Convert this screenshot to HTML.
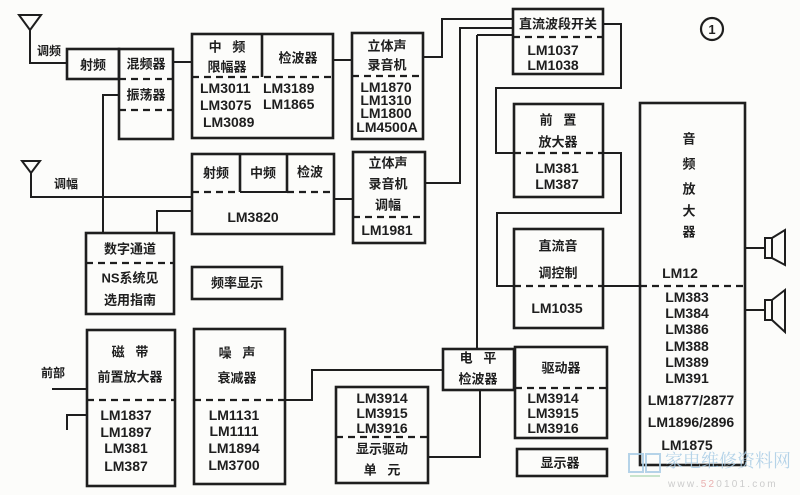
<!DOCTYPE html>
<html><head><meta charset="utf-8"><style>
html,body{margin:0;padding:0;background:#fcfcfa;}
svg{display:block;}
.c{font-family:"Liberation Sans","Noto Sans CJK SC",sans-serif;font-size:13px;font-weight:bold;fill:#1e1e1e;text-anchor:middle;dominant-baseline:central;}
.m{font-family:"Liberation Sans",sans-serif;font-size:14px;font-weight:bold;fill:#1e1e1e;text-anchor:middle;}
.b{fill:none;stroke:#1e1e1e;stroke-width:2.6;}
.l{fill:none;stroke:#1e1e1e;stroke-width:2;}
.d{fill:none;stroke:#1e1e1e;stroke-width:2.2;stroke-dasharray:7 5;}
</style></head><body>
<svg width="800" height="495" viewBox="0 0 800 495" xmlns="http://www.w3.org/2000/svg">
<rect width="800" height="495" fill="#fcfcfa"/>

<!-- Antenna FM -->
<polygon points="19,15 41,15 30,30" class="l"/>
<polyline points="30,30 30,63 67,63" class="l"/>
<text x="49" y="51" class="c" style="font-size:12px">调频</text>

<!-- 射频 -->
<rect x="67" y="49" width="52" height="30" class="b"/>
<text x="93" y="65" class="c">射频</text>
<!-- 混频器/振荡器 -->
<rect x="119" y="49" width="54" height="90" class="b"/>
<line x1="119" y1="79" x2="173" y2="79" class="d"/>
<line x1="119" y1="110" x2="173" y2="110" class="d"/>
<text x="146" y="64" class="c">混频器</text>
<text x="146" y="95" class="c">振荡器</text>
<line x1="173" y1="62" x2="192" y2="62" class="l"/>

<!-- 中频 box -->
<rect x="192" y="34" width="141" height="104" class="b"/>
<line x1="262" y1="34" x2="262" y2="77" class="b"/>
<line x1="192" y1="77" x2="333" y2="77" class="d"/>
<text x="227" y="47" class="c">中 &#160; 频</text>
<text x="227" y="67" class="c">限幅器</text>
<text x="298" y="58" class="c">检波器</text>
<text x="200" y="93" class="m" style="text-anchor:start">LM3011</text>
<text x="200" y="110" class="m" style="text-anchor:start">LM3075</text>
<text x="203" y="127" class="m" style="text-anchor:start">LM3089</text>
<text x="263" y="93" class="m" style="text-anchor:start">LM3189</text>
<text x="263" y="109" class="m" style="text-anchor:start">LM1865</text>
<line x1="333" y1="60" x2="352" y2="60" class="l"/>

<!-- 立体声录音机 -->
<rect x="352" y="33" width="71" height="106" class="b"/>
<line x1="352" y1="76" x2="423" y2="76" class="d"/>
<text x="387" y="46" class="c">立体声</text>
<text x="387" y="65" class="c">录音机</text>
<text x="386" y="92" class="m">LM1870</text>
<text x="386" y="105" class="m">LM1310</text>
<text x="386" y="118" class="m">LM1800</text>
<text x="387" y="132" class="m">LM4500A</text>
<polyline points="423,57 442,57 442,19 513,19" class="l"/>

<!-- 直流波段开关 -->
<rect x="513" y="9" width="90" height="65" class="b"/>
<line x1="513" y1="37" x2="603" y2="37" class="d"/>
<text x="558" y="24" class="c">直流波段开关</text>
<text x="553" y="55" class="m">LM1037</text>
<text x="553" y="70" class="m">LM1038</text>
<polyline points="603,24 621,24 621,88 496,88 496,153 514,153" class="l"/>

<!-- 前置放大器 -->
<rect x="514" y="104" width="89" height="93" class="b"/>
<line x1="514" y1="153" x2="603" y2="153" class="d"/>
<text x="558" y="120" class="c">前 &#160; 置</text>
<text x="558" y="142" class="c">放大器</text>
<text x="557" y="173" class="m">LM381</text>
<text x="557" y="189" class="m">LM387</text>
<polyline points="603,153 621,153 621,213 497,213 497,286 514,286" class="l"/>

<!-- 直流音调控制 -->
<rect x="514" y="229" width="89" height="99" class="b"/>
<line x1="514" y1="286" x2="603" y2="286" class="d"/>
<text x="558" y="246" class="c">直流音</text>
<text x="558" y="273" class="c">调控制</text>
<text x="557" y="313" class="m">LM1035</text>
<line x1="603" y1="286" x2="640" y2="286" class="l"/>

<!-- vertical line to 电平检波器 -->
<line x1="477" y1="35" x2="513" y2="35" class="l"/>
<line x1="477" y1="35" x2="477" y2="349" class="l"/>

<!-- Antenna AM -->
<polygon points="22,161 40,161 31,173" class="l"/>
<polyline points="31,173 31,197 192,197" class="l"/>
<text x="66" y="184" class="c" style="font-size:12px">调幅</text>

<!-- oscillator to 数字通道 -->
<polyline points="119,95 103,95 103,233" class="l"/>

<!-- LM3820 box -->
<rect x="192" y="154" width="142" height="80" class="b"/>
<line x1="240" y1="154" x2="240" y2="192" class="b"/>
<line x1="287" y1="154" x2="287" y2="192" class="b"/>
<line x1="192" y1="192" x2="240" y2="192" class="d"/>
<line x1="240" y1="192" x2="287" y2="192" class="l"/>
<line x1="287" y1="192" x2="334" y2="192" class="d"/>
<text x="216" y="173" class="c">射频</text>
<text x="263" y="173" class="c">中频</text>
<text x="310" y="172" class="c">检波</text>
<text x="253" y="222" class="m">LM3820</text>
<polyline points="192,211 157,211 157,233" class="l"/>
<line x1="334" y1="199" x2="353" y2="199" class="l"/>

<!-- 数字通道 -->
<rect x="86" y="233" width="88" height="81" class="b"/>
<line x1="86" y1="263" x2="174" y2="263" class="d"/>
<text x="130" y="249" class="c">数字通道</text>
<text x="130" y="278" class="c">NS系统见</text>
<text x="130" y="300" class="c">选用指南</text>

<!-- 频率显示 -->
<rect x="192" y="267" width="90" height="32" class="b"/>
<text x="237" y="283" class="c">频率显示</text>

<!-- 立体声录音机调幅 -->
<rect x="353" y="152" width="72" height="91" class="b" style="stroke-dasharray:none"/>
<line x1="353" y1="217" x2="425" y2="217" class="d"/>
<text x="388" y="163" class="c">立体声</text>
<text x="388" y="184" class="c">录音机</text>
<text x="388" y="205" class="c">调幅</text>
<text x="387" y="235" class="m">LM1981</text>
<polyline points="425,183 460,183 460,28 513,28" class="l"/>

<!-- 磁带前置放大器 -->
<rect x="87" y="330" width="88" height="156" class="b"/>
<line x1="87" y1="400" x2="175" y2="400" class="d"/>
<text x="130" y="352" class="c">磁 &#160; 带</text>
<text x="130" y="377" class="c">前置放大器</text>
<text x="126" y="420" class="m">LM1837</text>
<text x="126" y="437" class="m">LM1897</text>
<text x="126" y="453" class="m">LM381</text>
<text x="126" y="471" class="m">LM387</text>
<text x="53" y="373" class="c" style="font-size:12px">前部</text>
<line x1="52" y1="389" x2="87" y2="389" class="l"/>
<polyline points="67,430 67,415 87,415" class="l"/>

<!-- 噪声衰减器 -->
<rect x="194" y="329" width="91" height="155" class="b"/>
<line x1="194" y1="400" x2="285" y2="400" class="d"/>
<text x="237" y="353" class="c">噪 &#160; 声</text>
<text x="237" y="378" class="c">衰减器</text>
<text x="234" y="420" class="m">LM1131</text>
<text x="234" y="436" class="m">LM1111</text>
<text x="234" y="453" class="m">LM1894</text>
<text x="234" y="470" class="m">LM3700</text>
<polyline points="285,400 312,400 312,370 443,370" class="l"/>

<!-- 电平检波器 -->
<rect x="443" y="349" width="71" height="41" class="b"/>
<text x="478" y="358" class="c">电 &#160; 平</text>
<text x="478" y="379" class="c">检波器</text>
<polyline points="480,390 480,457 428,457" class="l"/>

<!-- 驱动器 -->
<rect x="515" y="347" width="92" height="91" class="b"/>
<line x1="515" y1="388" x2="607" y2="388" class="d"/>
<text x="561" y="368" class="c">驱动器</text>
<text x="553" y="403" class="m">LM3914</text>
<text x="553" y="418" class="m">LM3915</text>
<text x="553" y="433" class="m">LM3916</text>

<!-- 显示驱动单元 -->
<rect x="336" y="387" width="92" height="96" class="b"/>
<line x1="336" y1="437" x2="428" y2="437" class="d"/>
<text x="382" y="403" class="m">LM3914</text>
<text x="382" y="418" class="m">LM3915</text>
<text x="382" y="433" class="m">LM3916</text>
<text x="382" y="449" class="c">显示驱动</text>
<text x="382" y="470" class="c">单 &#160; 元</text>

<!-- 显示器 -->
<rect x="517" y="449" width="90" height="27" class="b"/>
<text x="560" y="463" class="c">显示器</text>

<!-- 音频放大器 -->
<rect x="640" y="103" width="105" height="362" class="b"/>
<line x1="640" y1="286" x2="745" y2="286" class="d"/>
<text x="689" y="139" class="c">音</text>
<text x="689" y="164" class="c">频</text>
<text x="689" y="189" class="c">放</text>
<text x="689" y="211" class="c">大</text>
<text x="689" y="232" class="c">器</text>
<text x="680" y="278" class="m">LM12</text>
<text x="687" y="302" class="m">LM383</text>
<text x="687" y="318" class="m">LM384</text>
<text x="687" y="334" class="m">LM386</text>
<text x="687" y="351" class="m">LM388</text>
<text x="687" y="367" class="m">LM389</text>
<text x="687" y="383" class="m">LM391</text>
<text x="691" y="405" class="m">LM1877/2877</text>
<text x="691" y="427" class="m">LM1896/2896</text>
<text x="687" y="450" class="m">LM1875</text>

<!-- speakers -->
<line x1="745" y1="248" x2="765" y2="248" class="l"/>
<rect x="765" y="238" width="7" height="20" class="l"/>
<polygon points="772,238 785,230 785,265 772,258" class="l"/>
<line x1="745" y1="310" x2="765" y2="310" class="l"/>
<rect x="765" y="300" width="7" height="20" class="l"/>
<polygon points="772,300 785,290 785,332 772,320" class="l"/>

<!-- circle 1 -->
<circle cx="712" cy="29" r="11" class="l" style="stroke-width:2.2"/>
<text x="712" y="34" class="m" style="font-size:13px">1</text>

<!-- watermark -->
<g opacity="0.85">
<rect x="629" y="454" width="14" height="18" fill="none" stroke="#a9cde6" stroke-width="2"/>
<rect x="646" y="454" width="14" height="18" fill="none" stroke="#a9cde6" stroke-width="2"/>
<line x1="630" y1="476" x2="660" y2="476" stroke="#bfe0c4" stroke-width="2"/>
<text x="665" y="467" style="font-family:'Noto Serif CJK SC',serif;font-size:18px;fill:#a9cde6;">家电维修资料网</text>
<text x="668" y="487" style="font-family:'Liberation Sans',sans-serif;font-size:10px;letter-spacing:2.2px;fill:#c4c4c4;">www.<tspan fill="#e6a3a3">52</tspan>0101.com</text>
</g>
</svg>
</body></html>
